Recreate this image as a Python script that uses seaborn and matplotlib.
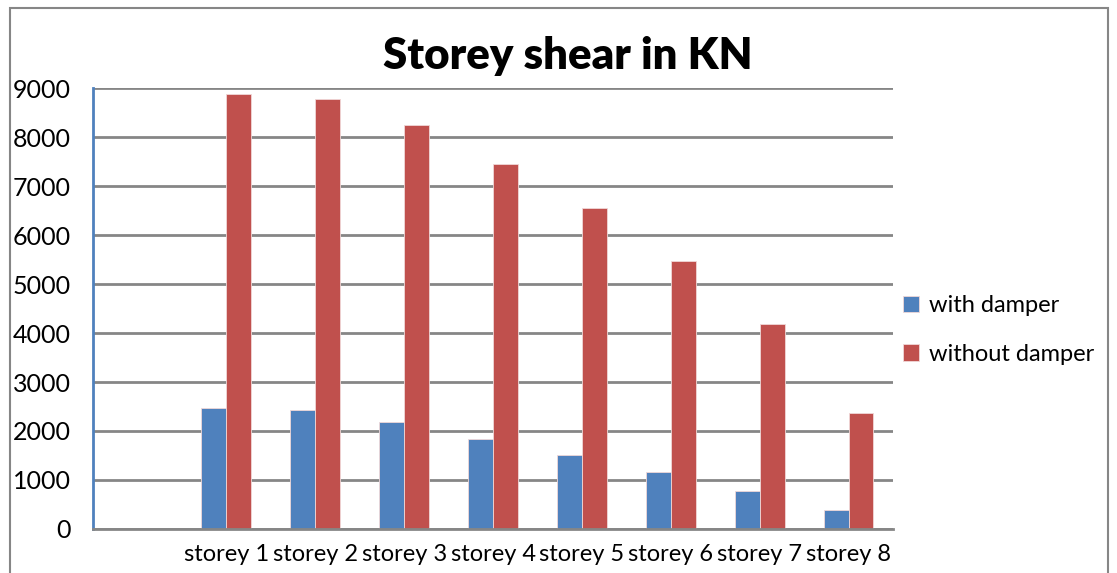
import numpy as np
import pandas as pd
import seaborn as sns
import matplotlib.pyplot as plt
from matplotlib.patches import Rectangle

storeys = ["", "storey 1", "storey 2", "storey 3", "storey 4",
           "storey 5", "storey 6", "storey 7", "storey 8"]
with_damper = [2470, 2430, 2190, 1840, 1500, 1165, 780, 380]
without_damper = [8875, 8780, 8240, 7450, 6550, 5470, 4180, 2360]
series = ["with damper", "without damper"]
colors = ["#4F81BD", "#C0504D"]

df = pd.DataFrame({
    "storey": storeys[1:] * 2,
    "shear": with_damper + without_damper,
    "case": [series[0]] * 8 + [series[1]] * 8,
})

sns.set_style("white")
plt.rcParams["font.family"] = ["Lato", "DejaVu Sans"]
plt.rcParams["text.color"] = "black"
plt.rcParams["xtick.color"] = "black"
plt.rcParams["ytick.color"] = "black"

fig = plt.figure(figsize=(11.17, 5.73), dpi=100)
ax = fig.add_axes([0.0833, 0.0768, 0.7162, 0.7696])

sns.barplot(data=df, x="storey", y="shear", hue="case", order=storeys,
            hue_order=series, palette=colors, saturation=1, width=0.56, ax=ax,
            edgecolor="#f0d8d8", linewidth=0.6, legend=True)

ax.set_ylim(0, 9000)
ax.set_xlim(-0.5, len(storeys) - 0.5)
ax.set_yticks(np.arange(0, 9001, 1000))
ax.yaxis.grid(True, color="#868686", linewidth=2)
ax.set_axisbelow(True)
ax.tick_params(axis="y", length=0, pad=16, labelsize=18)
ax.tick_params(axis="x", length=0, pad=11, labelsize=17)
ax.set_xlabel("")
ax.set_ylabel("")
for s in ["top", "right"]:
    ax.spines[s].set_visible(False)
ax.spines["left"].set_color("#4F81BD")
ax.spines["left"].set_linewidth(2)
ax.spines["bottom"].set_color("#868686")
ax.spines["bottom"].set_linewidth(2)

ax.legend(loc="center left", bbox_to_anchor=(0.808, 0.424), bbox_transform=fig.transFigure,
          frameon=False, fontsize=17, handlelength=0.7, handleheight=0.7,
          handletextpad=0.4, labelspacing=1.15, borderpad=0, borderaxespad=0)

fig.text(0.508, 0.903, "Storey shear in KN", ha="center", va="center",
         fontsize=31.5, fontweight="heavy")

fig.patches.append(Rectangle((0.009, -0.1), 0.983, 1.086, transform=fig.transFigure,
                             fill=False, edgecolor="#868686", linewidth=1.5))

fig.savefig("out.png", dpi=100)
